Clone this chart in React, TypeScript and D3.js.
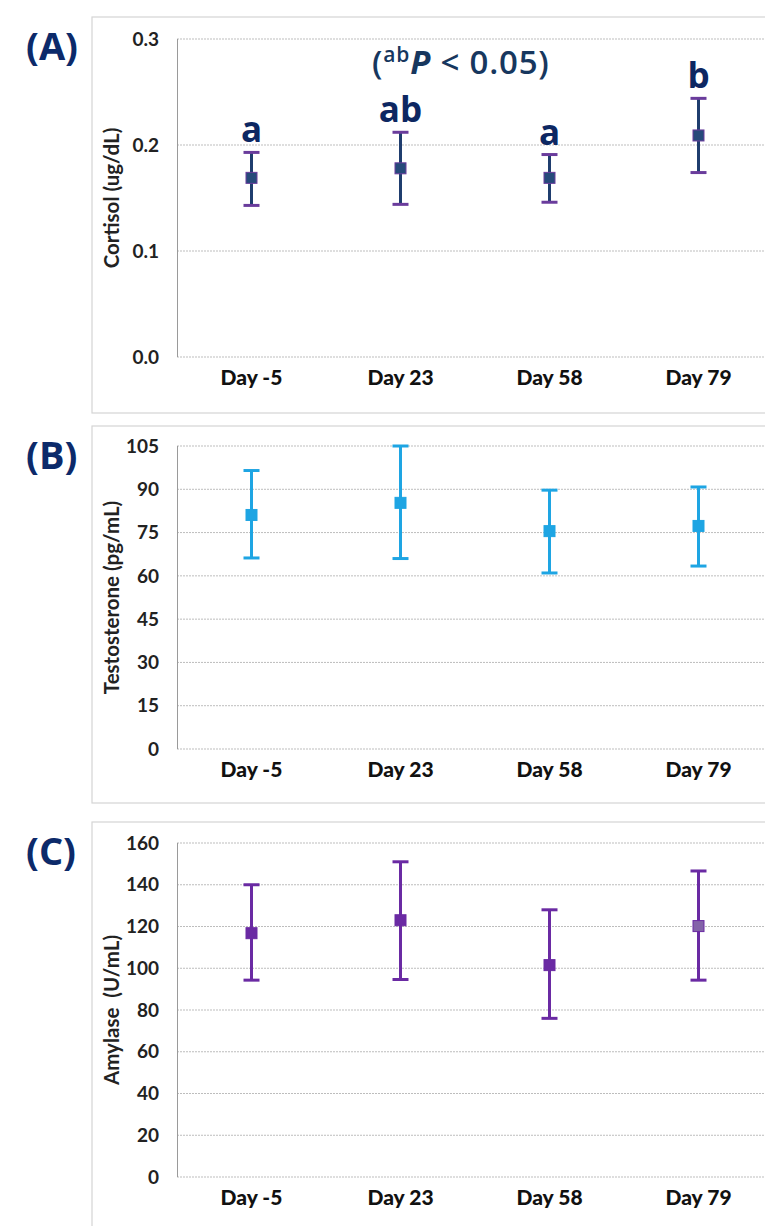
import React from "react"
import * as d3 from "d3"

const days = ["Day -5", "Day 23", "Day 58", "Day 79"]

const cortisolMean = [0.169, 0.178, 0.169, 0.209]
const cortisolLow = [0.143, 0.144, 0.146, 0.174]
const cortisolHigh = [0.193, 0.212, 0.191, 0.244]
const cortisolLetters = ["a", "ab", "a", "b"]
const cortisolTicks = [0, 0.1, 0.2, 0.3]

const testoMean = [81.1, 85.3, 75.5, 77.3]
const testoLow = [66.2, 66.0, 61.0, 63.4]
const testoHigh = [96.5, 105, 89.7, 90.8]
const testoTicks = [0, 15, 30, 45, 60, 75, 90, 105]

const amylaseMean = [116.8, 123, 101.5, 120.2]
const amylaseLow = [94.3, 94.6, 76, 94.3]
const amylaseHigh = [140, 151, 128, 146.6]
const amylaseTicks = [0, 20, 40, 60, 80, 100, 120, 140, 160]

const W = 765
const H = 1226
const tickFont = "Lato, 'Open Sans', sans-serif"
const boldFont = "'Open Sans', Lato, sans-serif"

type Panel = {
  label: string
  title: string
  frame: [number, number]
  plot: [number, number]
  ticks: number[]
  fmt: (v: number) => string
  mean: number[]
  low: number[]
  high: number[]
  line: string
  cap: string
  marker: string[]
  markerStroke: string
  letters?: string[]
}

const panels: Panel[] = [
  {
    label: "(A)", title: "Cortisol (ug/dL)", frame: [17, 413], plot: [39, 357],
    ticks: cortisolTicks, fmt: d3.format(".1f"),
    mean: cortisolMean, low: cortisolLow, high: cortisolHigh,
    line: "#1f3d6e", cap: "#6a3c9c", marker: ["#264a7a", "#264a7a", "#264a7a", "#264a7a"],
    markerStroke: "#6a3c9c", letters: cortisolLetters,
  },
  {
    label: "(B)", title: "Testosterone (pg/mL)", frame: [426, 803], plot: [446, 749],
    ticks: testoTicks, fmt: d3.format("d"),
    mean: testoMean, low: testoLow, high: testoHigh,
    line: "#1ea5e3", cap: "#1ea5e3", marker: ["#1ea5e3", "#1ea5e3", "#1ea5e3", "#1ea5e3"],
    markerStroke: "#1ea5e3",
  },
  {
    label: "(C)", title: "Amylase\u00a0 (U/mL)", frame: [822, 1240], plot: [843, 1177],
    ticks: amylaseTicks, fmt: d3.format("d"),
    mean: amylaseMean, low: amylaseLow, high: amylaseHigh,
    line: "#6a2aa3", cap: "#6a2aa3", marker: ["#6a2aa3", "#6a2aa3", "#6a2aa3", "#8363a8"],
    markerStroke: "#6a2aa3",
  },
]

const x = d3.scaleBand().domain(days).range([177, 773])

function ChartPanel({ p }: { p: Panel }) {
  const y = d3.scaleLinear()
    .domain([0, d3.max(p.ticks) as number])
    .range([p.plot[1], p.plot[0]])
  const cx = (d: string) => (x(d) as number) + x.bandwidth() / 2
  const ms = 11
  return (
    <g>
      {/* panel frame */}
      <rect x={92} y={p.frame[0]} width={W} height={p.frame[1] - p.frame[0]}
        fill="none" stroke="#d4d4d4" strokeWidth={1.2} />
      <text x={26} y={p.frame[0] + 43} fontFamily={boldFont} fontWeight={700} fontSize={38} fill="#0c2a6a">
        {p.label}
      </text>
      {/* grid */}
      {p.ticks.map(t => (
        <line key={t} x1={177} x2={W} y1={y(t)} y2={y(t)} stroke="#bdbdbd" strokeWidth={1} strokeDasharray="2,1" />
      ))}
      <line x1={177.5} x2={177.5} y1={p.plot[0]} y2={p.plot[1]} stroke="#9a9a9a" strokeWidth={1} />
      {p.ticks.map(t => (
        <text key={"l" + t} x={159} y={y(t)} dy="0.35em" textAnchor="end" fontFamily={tickFont}
          fontWeight={700} fontSize={19} fill="#222">{p.fmt(t)}</text>
      ))}
      {days.map(d => (
        <text key={d} x={cx(d)} y={p.plot[1] + 21} dy="0.35em" textAnchor="middle" fontFamily={tickFont}
          fontWeight={900} fontSize={21} fill="#111">{d}</text>
      ))}
      <text transform={`translate(112,${(p.plot[0] + p.plot[1]) / 2}) rotate(-90)`} textAnchor="middle"
        dy="0.35em" fontFamily={tickFont} fontWeight={700} fontSize={20.5} fill="#222">{p.title}</text>
      {/* error bars */}
      {days.map((d, i) => (
        <g key={"e" + d}>
          <line x1={cx(d)} x2={cx(d)} y1={y(p.high[i])} y2={y(p.low[i])} stroke={p.line} strokeWidth={3} />
          <line x1={cx(d) - 8} x2={cx(d) + 8} y1={y(p.high[i])} y2={y(p.high[i])} stroke={p.cap} strokeWidth={3} />
          <line x1={cx(d) - 8} x2={cx(d) + 8} y1={y(p.low[i])} y2={y(p.low[i])} stroke={p.cap} strokeWidth={3} />
          <rect x={cx(d) - ms / 2} y={y(p.mean[i]) - ms / 2} width={ms} height={ms}
            fill={p.marker[i]} stroke={p.markerStroke} strokeWidth={1} />
          {p.letters && (
            <text x={cx(d)} y={y(p.high[i]) - 10} textAnchor="middle" fontFamily={boldFont}
              fontWeight={700} fontSize={35} fill="#0d2762">{p.letters[i]}</text>
          )}
        </g>
      ))}
    </g>
  )
}

export default function App() {
  return (
    <div style={{ position: "absolute", left: 0, top: 0 }}>
      <svg width={W} height={H} viewBox={`0 0 ${W} ${H}`} style={{ display: "block", background: "#fff" }}>
        {panels.map(p => <ChartPanel key={p.label} p={p} />)}
        <text x={372} y={74} fontFamily={boldFont} fontWeight={600} fontSize={33} letterSpacing={0.8} fill="#17375e">
          (<tspan fontSize={21} dy={-12}>ab</tspan><tspan dy={12} fontStyle="italic" fontWeight={700}>P</tspan> &lt; 0.05)
        </text>
      </svg>
    </div>
  )
}
